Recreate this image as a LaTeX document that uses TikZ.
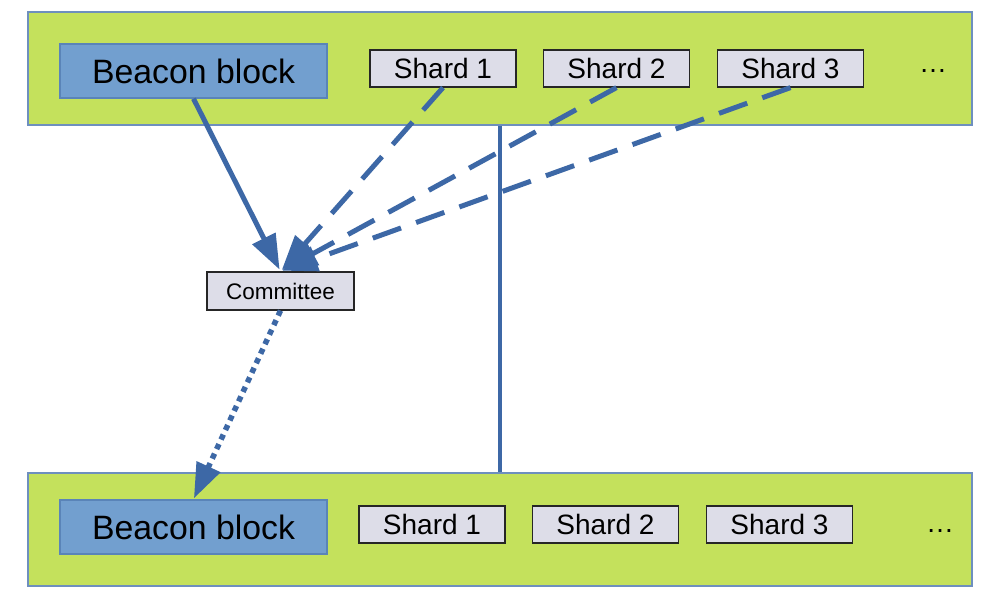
\documentclass[tikz,border=0pt]{standalone}
\usepackage{fontspec}
\setmainfont{Liberation Sans}
\usetikzlibrary{arrows.meta}
\definecolor{grn}{HTML}{C4E15C}
\definecolor{grnline}{HTML}{6E8FBE}
\definecolor{bfill}{HTML}{729FCF}
\definecolor{bline}{HTML}{5A84B8}
\definecolor{sfill}{HTML}{DDDDE8}
\definecolor{arr}{HTML}{3D68A6}
\tikzset{
  layer/.style={draw=grnline, fill=grn, line width=1.2pt, minimum width=944pt, minimum height=113pt, inner sep=0pt},
  beacon/.style={draw=bline, fill=bfill, line width=1.4pt, minimum width=267pt, minimum height=54pt, inner sep=0pt, font=\fontsize{33.8}{40}\selectfont},
  shard/.style={draw=black!85, fill=sfill, line width=1.2pt, minimum width=146pt, minimum height=37pt, inner sep=0pt, font=\fontsize{28}{34}\selectfont},
  comm/.style={draw=black!85, fill=sfill, line width=1.2pt, minimum width=147pt, minimum height=38pt, inner sep=0pt, font=\fontsize{22.5}{27}\selectfont},
  dots/.style={anchor=base, inner sep=0pt, font=\fontsize{28}{34}\selectfont},
  tip/.style={-{Triangle[length=35pt,width=25pt]}},
  solidarr/.style={draw=arr, line width=5pt, tip, shorten >=2pt},
  dasharr/.style={draw=arr, line width=5pt, tip, dash pattern=on 30pt off 16pt, shorten >=2pt},
  dotarr/.style={draw=arr, line width=5.5pt, tip, dash pattern=on 5.5pt off 5pt, shorten >=1pt},
}
\begin{document}
\begin{tikzpicture}[x=1pt,y=-1pt]
\useasboundingbox (0,0) rectangle (984,598);
\fill[white] (0,0) rectangle (984,598);
% layers
\node[layer] (top) at (500,68.5) {};
\node[layer] (bot) at (500,529.5) {};
% vertical separator
\draw[arr, line width=4.5pt] (top.south) -- (bot.north);
% top row
\node[beacon] (b1) at (193.5,71) {Beacon block};
\node[shard] (s1) at (443,68.5) {Shard 1};
\node[shard] (s2) at (616.5,68.5) {Shard 2};
\node[shard] (s3) at (790.5,68.5) {Shard 3};
\node[dots] (d1) at (933,72) {…};
% bottom row
\node[beacon] (b2) at (193.5,527) {Beacon block};
\node[shard] (t1) at (432,524.5) {Shard 1};
\node[shard] (t2) at (605.5,524.5) {Shard 2};
\node[shard] (t3) at (779.5,524.5) {Shard 3};
\node[dots] (d2) at (940,532) {…};
% committee
\node[comm] (c) at (280.5,291) {Committee};
% connectors
\draw[solidarr] (b1.south) -- (c.north);
\draw[dasharr] (s1.south) -- (c.north);
\draw[dasharr] (s2.south) -- (c.north);
\draw[dasharr] (s3.south) -- (c.north);
\draw[dotarr] (c.south) -- (b2.north);
\end{tikzpicture}
\end{document}
